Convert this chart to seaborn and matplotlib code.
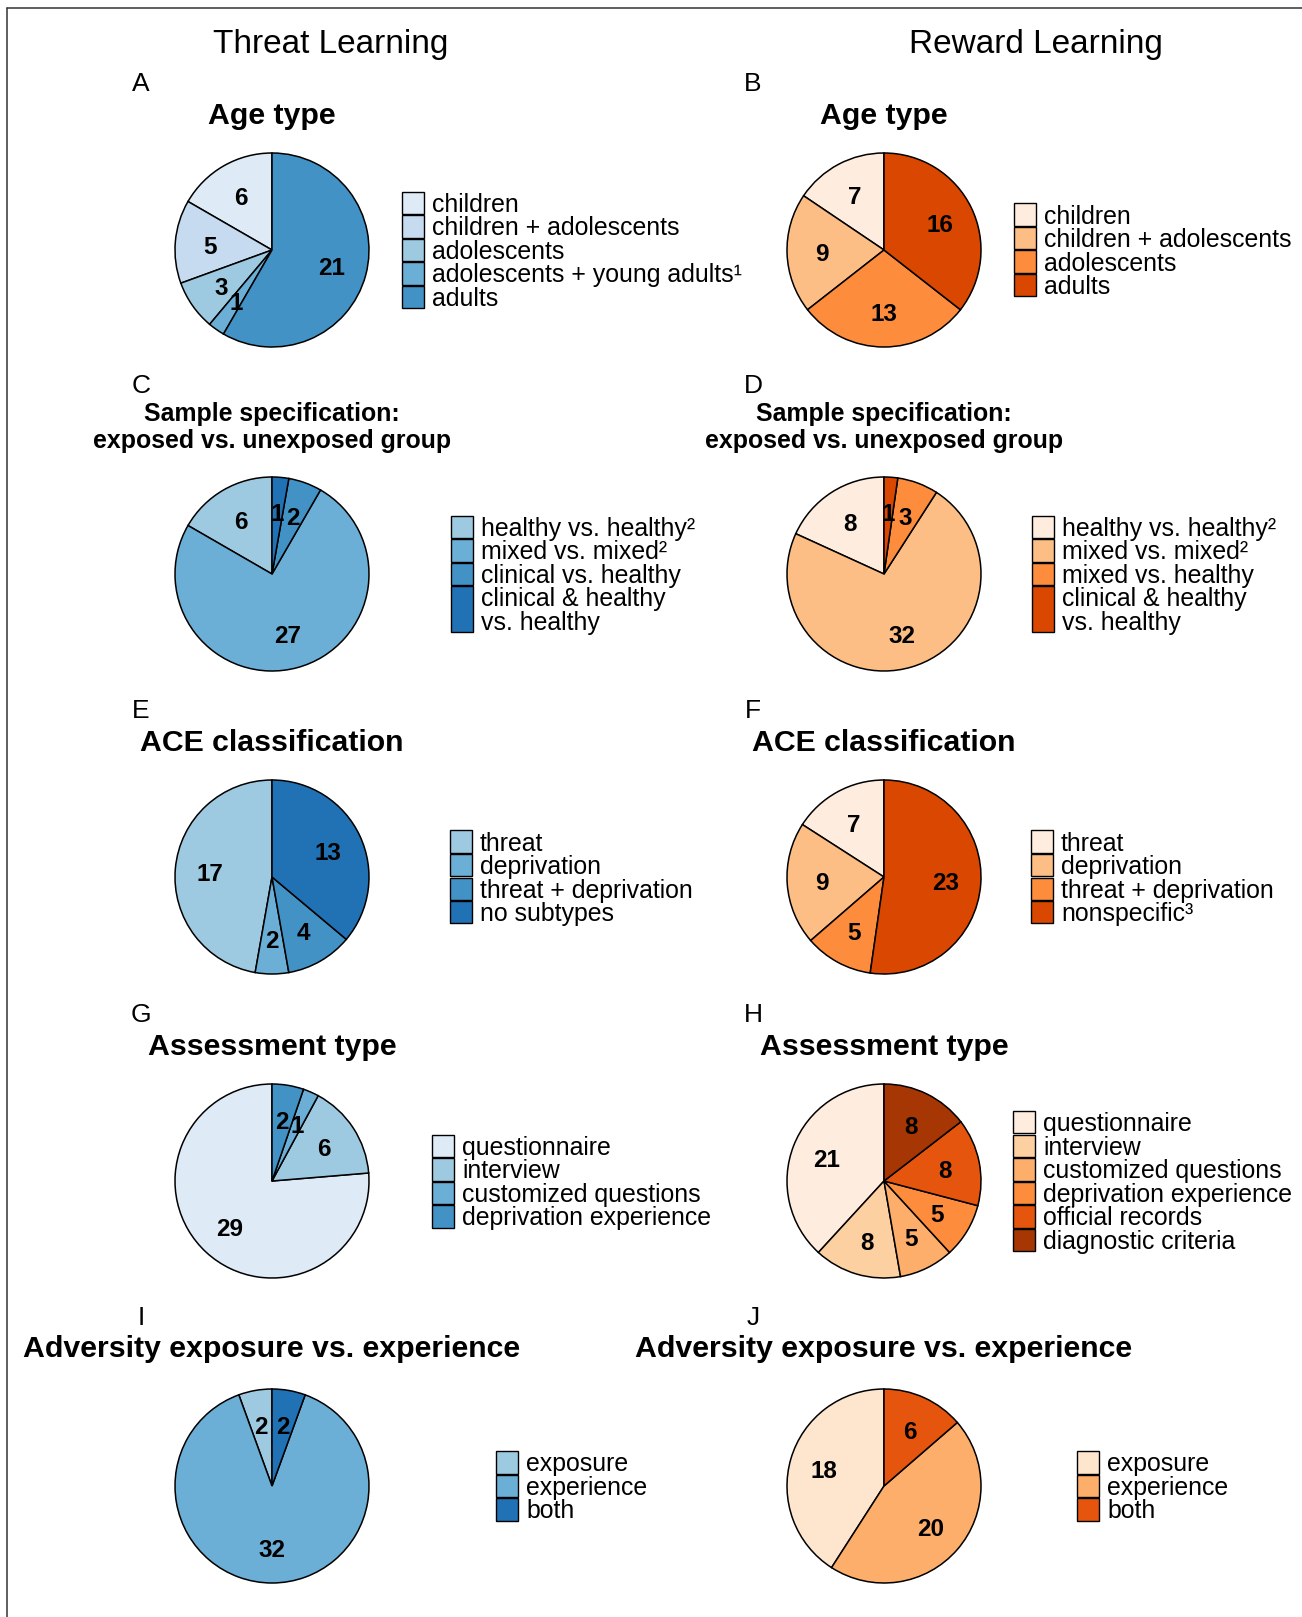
import matplotlib
matplotlib.use("Agg")
import matplotlib.pyplot as plt
from matplotlib.patches import Rectangle
from matplotlib.lines import Line2D
import seaborn as sns

sns.set_theme(style="white")
plt.rcParams['font.family'] = ['Liberation Sans', 'DejaVu Sans']
plt.rcParams['text.color'] = 'black'

# ---- data -------------------------------------------------------------
age_threat_labels = ["children", "children + adolescents", "adolescents",
                     "adolescents + young adults\u00b9", "adults"]
age_threat_values = [6, 5, 3, 1, 21]

age_reward_labels = ["children", "children + adolescents", "adolescents", "adults"]
age_reward_values = [7, 9, 13, 16]

sample_threat_labels = ["healthy vs. healthy\u00b2", "mixed vs. mixed\u00b2",
                        "clinical vs. healthy", "clinical & healthy\nvs. healthy"]
sample_threat_values = [6, 27, 2, 1]

sample_reward_labels = ["healthy vs. healthy\u00b2", "mixed vs. mixed\u00b2",
                        "mixed vs. healthy", "clinical & healthy\nvs. healthy"]
sample_reward_values = [8, 32, 3, 1]

ace_threat_labels = ["threat", "deprivation", "threat + deprivation", "no subtypes"]
ace_threat_values = [17, 2, 4, 13]

ace_reward_labels = ["threat", "deprivation", "threat + deprivation", "nonspecific\u00b3"]
ace_reward_values = [7, 9, 5, 23]

assess_threat_labels = ["questionnaire", "interview", "customized questions",
                        "deprivation experience"]
assess_threat_values = [29, 6, 1, 2]

assess_reward_labels = ["questionnaire", "interview", "customized questions",
                        "deprivation experience", "official records",
                        "diagnostic criteria"]
assess_reward_values = [21, 8, 5, 5, 8, 8]

adv_threat_labels = ["exposure", "experience", "both"]
adv_threat_values = [2, 32, 2]

adv_reward_labels = ["exposure", "experience", "both"]
adv_reward_values = [18, 20, 6]

# ---- colours ----------------------------------------------------------
blues_age = sns.color_palette(["#deebf7", "#c6dbef", "#9ecae1", "#6baed6", "#4292c6"])
blues_4 = sns.color_palette(["#9ecae1", "#6baed6", "#4292c6", "#2171b5"])
blues_assess = sns.color_palette(["#deebf7", "#9ecae1", "#6baed6", "#4292c6"])
blues_adv = sns.color_palette(["#9ecae1", "#6baed6", "#2171b5"])
oranges_4 = sns.color_palette(["#feedde", "#fdbe85", "#fd8d3c", "#d94701"])
oranges_6 = sns.color_palette(["#feedde", "#fdd0a2", "#fdae6b", "#fd8d3c", "#e6550d", "#a63603"])
oranges_3 = sns.color_palette(["#fee6ce", "#fdae6b", "#e6550d"])

# ---- figure geometry (pixels) ------------------------------------------
W, H = 1302, 1617
fig = plt.figure(figsize=(W / 100, H / 100), dpi=100)
fig.patch.set_facecolor("white")


def fx(x):
    return x / W


def fy(y):
    return 1 - y / H


R = 97            # pie radius in px
ROW_H = 23.5      # legend row height in px
LEG_FS = 17.9     # legend font size (pt)
LEG_PX = LEG_FS * 100 / 72

# frame lines along the top and left
fig.add_artist(Line2D([fx(7), fx(W)], [fy(8), fy(8)], transform=fig.transFigure,
                      color="#333333", lw=1.1))
fig.add_artist(Line2D([fx(7), fx(7)], [fy(8), fy(H)], transform=fig.transFigure,
                      color="#333333", lw=1.1))

# column headers
fig.text(fx(331), fy(53), "Threat Learning", ha="center", va="baseline", fontsize=24)
fig.text(fx(1036), fy(53), "Reward Learning", ha="center", va="baseline", fontsize=24)


def draw_panel(letter, title, values, labels, colors, cx, cy, leg_x,
               title_fs=21.8, title_dy=-126, letter_dy=-159, letter_x=None):
    s = 2.5 * R
    ax = fig.add_axes([fx(cx - s / 2), fy(cy + s / 2), s / W, s / H])
    total = sum(values)
    _, _, autotexts = ax.pie(
        values, colors=colors, startangle=90, counterclock=True,
        wedgeprops=dict(edgecolor="black", linewidth=1.1),
        autopct=lambda p: f"{round(p * total / 100)}", pctdistance=0.64,
        textprops=dict(fontsize=17.5, fontweight="bold", color="black"))
    for t in autotexts:
        t.set_verticalalignment("center_baseline")
    ax.set_xlim(-1.25, 1.25)
    ax.set_ylim(-1.25, 1.25)
    ax.set_aspect("equal")
    ax.axis("off")

    # panel letter
    fig.text(fx(letter_x), fy(cy + letter_dy), letter, ha="center", va="baseline",
             fontsize=19)

    # title (possibly two lines)
    lines = title.split("\n")
    n = len(lines)
    lh = 26.5
    for i, ln in enumerate(lines):
        yb = cy + title_dy - (n - 1 - i) * lh
        fig.text(fx(cx), fy(yb), ln, ha="center", va="baseline",
                 fontsize=title_fs, fontweight="bold")

    # legend: stacked boxes with labels, vertically centred on the pie
    nrows = sum(len(l.split("\n")) for l in labels)
    top = cy - nrows * ROW_H / 2
    r = 0
    for lab, col in zip(labels, colors):
        parts = lab.split("\n")
        k = len(parts)
        y0 = top + r * ROW_H
        fig.add_artist(Rectangle((fx(leg_x), fy(y0 + k * ROW_H - 0.5)),
                                 22 / W, (k * ROW_H - 1) / H,
                                 transform=fig.transFigure, facecolor=col,
                                 edgecolor="black", lw=1.0))
        for j, p in enumerate(parts):
            yb = y0 + (j + 0.5) * ROW_H + 0.36 * LEG_PX
            fig.text(fx(leg_x + 30), fy(yb), p, ha="left", va="baseline",
                     fontsize=LEG_FS)
        r += k


LX, RX = 272, 884
LL, RL = 141, 753

draw_panel("A", "Age type", age_threat_values, age_threat_labels, blues_age,
           LX, 250, 402, letter_x=LL)
draw_panel("B", "Age type", age_reward_values, age_reward_labels, oranges_4,
           RX, 250, 1014, letter_x=RL)

draw_panel("C", "Sample specification:\nexposed vs. unexposed group",
           sample_threat_values, sample_threat_labels, blues_4,
           LX, 574, 451, title_fs=17.9, letter_dy=-181, letter_x=LL)
draw_panel("D", "Sample specification:\nexposed vs. unexposed group",
           sample_reward_values, sample_reward_labels, oranges_4,
           RX, 574, 1032, title_fs=17.9, letter_dy=-181, letter_x=RL)

draw_panel("E", "ACE classification", ace_threat_values, ace_threat_labels, blues_4,
           LX, 877, 450, letter_x=LL)
draw_panel("F", "ACE classification", ace_reward_values, ace_reward_labels, oranges_4,
           RX, 877, 1031, letter_x=RL)

draw_panel("G", "Assessment type", assess_threat_values, assess_threat_labels,
           blues_assess, LX, 1181, 432, letter_x=LL)
draw_panel("H", "Assessment type", assess_reward_values, assess_reward_labels,
           oranges_6, RX, 1181, 1013, letter_x=RL)

draw_panel("I", "Adversity exposure vs. experience", adv_threat_values,
           adv_threat_labels, blues_adv, LX, 1486, 496, title_dy=-129,
           letter_dy=-161, letter_x=LL)
draw_panel("J", "Adversity exposure vs. experience", adv_reward_values,
           adv_reward_labels, oranges_3, RX, 1486, 1077, title_dy=-129,
           letter_dy=-161, letter_x=RL)

fig.savefig("out.png", dpi=100, facecolor="white")
